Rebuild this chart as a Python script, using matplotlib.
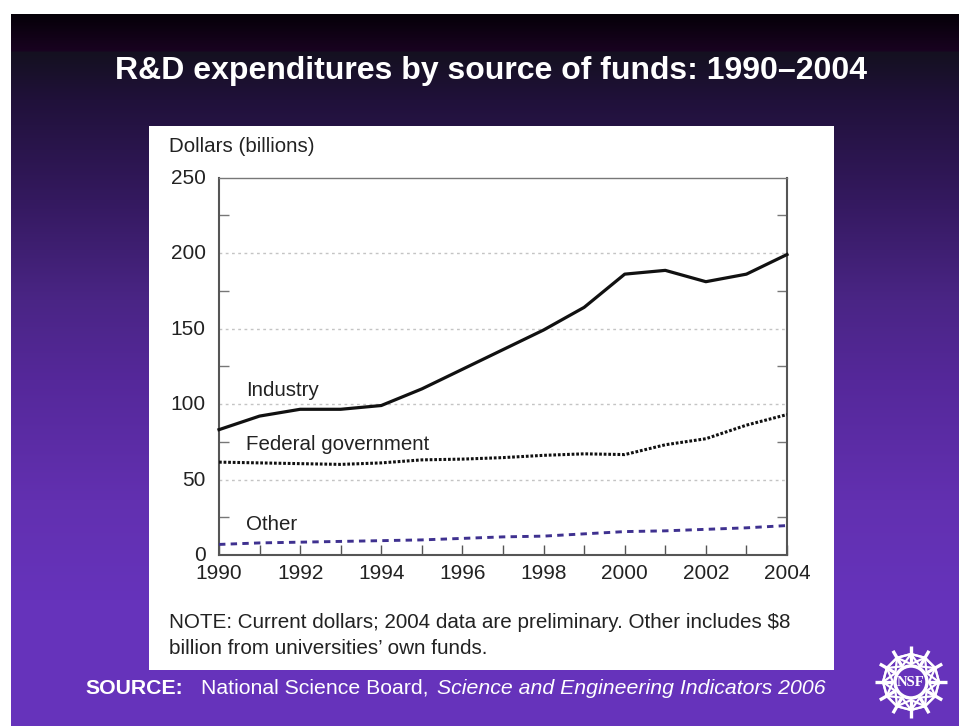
import numpy as np
import matplotlib
matplotlib.use("Agg")
import matplotlib.pyplot as plt
from matplotlib.colors import LinearSegmentedColormap
from matplotlib.patches import Rectangle, Circle
from matplotlib.transforms import ScaledTranslation

years = list(range(1990, 2005))
industry = [83, 92, 96.5, 96.5, 99, 110, 123, 136, 149, 164, 186, 188.5, 181, 186, 199]
federal = [61.5, 61, 60.5, 60, 61, 63, 63.5, 64.5, 66, 67, 66.5, 73, 77, 86, 93]
other = [7, 8, 8.5, 9, 9.5, 10, 11, 12, 12.5, 14, 15.5, 16, 17, 18, 19.5]
y_major = [0, 50, 100, 150, 200, 250]
y_minor = [25, 75, 125, 175, 225]
x_labels = list(range(1990, 2005, 2))

W, H = 959, 726
plt.rcParams['font.family'] = ['Liberation Sans', 'DejaVu Sans']
fig = plt.figure(figsize=(W / 100, H / 100), dpi=100, facecolor='white')

def box(l, t, r, b):
    return [l / W, 1 - b / H, (r - l) / W, (b - t) / H]

# slide background
TOP = 14
stops = [(14, '#050008'), (50, '#190320'), (52, '#141020'), (100, '#20113a'), (200, '#34195f'),
         (300, '#4a2585'), (380, '#55289a'), (500, '#6230b0'), (600, '#6633bb'), (726, '#6633bb')]
cmap = LinearSegmentedColormap.from_list('slide', [((y - TOP) / (H - TOP), c) for y, c in stops], N=712)
bg = fig.add_axes(box(11, TOP, W, H))
bg.imshow(np.linspace(0, 1, 712)[:, None], aspect='auto', cmap=cmap, extent=[0, 1, 0, 1])
bg.axis('off')

# overlay in pixel coordinates
ov = fig.add_axes([0, 0, 1, 1], zorder=1)
ov.set_xlim(0, W)
ov.set_ylim(H, 0)
ov.axis('off')
ov.patch.set_alpha(0)
ov.add_patch(Rectangle((148.5, 125.5), 685.5, 544.5, fc='white', ec='none'))
ov.text(491, 71, 'R&D expenditures by source of funds: 1990–2004', color='white',
        fontsize=23, fontweight='bold', ha='center', va='center')
ov.text(169, 146, 'Dollars (billions)', color='#222222', fontsize=14.8, va='center')
ov.text(169, 623, 'NOTE: Current dollars; 2004 data are preliminary. Other includes $8',
        color='#222222', fontsize=14.85, va='center')
ov.text(169, 649, 'billion from universities’ own funds.', color='#222222', fontsize=14.85, va='center')
ov.text(85, 688, 'SOURCE:', color='white', fontsize=15.3, fontweight='bold', va='center')
ov.text(201, 688, 'National Science Board, ', color='white', fontsize=15.3, va='center')
ov.text(437, 688, 'Science and Engineering Indicators 2006', color='white', fontsize=15.3,
        style='italic', va='center')

# NSF emblem
cx, cy, r0, r1, r2 = 911, 682, 18, 28, 36
for a in np.deg2rad(np.arange(0, 360, 30)):
    ov.plot([cx + r0 * np.cos(a), cx + r2 * np.cos(a)], [cy + r0 * np.sin(a), cy + r2 * np.sin(a)],
            color='white', lw=2.4, solid_capstyle='butt')
    for d in (-1, 1):
        b = a + d * np.pi / 6
        ov.plot([cx + r0 * np.cos(a), cx + r1 * np.cos(b)], [cy + r0 * np.sin(a), cy + r1 * np.sin(b)],
                color='white', lw=1.6)
        ov.plot([cx + r1 * np.cos(a), cx + r1 * np.cos(b)], [cy + r1 * np.sin(a), cy + r1 * np.sin(b)],
                color='white', lw=1.6)
ov.add_patch(Circle((cx, cy), r0 - 2, fc='#6633bb', ec='white', lw=2.5, zorder=3))
ov.text(cx, cy + 0.5, 'NSF', color='white', fontsize=10.5, fontweight='bold', family='Liberation Serif',
        ha='center', va='center', zorder=4)

# chart
ax = fig.add_axes(box(219, 177.5, 787, 555), zorder=2)
ax.patch.set_alpha(0)
ax.set_xlim(1990, 2004)
ax.set_ylim(0, 250)
for v in y_major[1:-1]:
    ax.axhline(v, color='#c4c4c4', lw=1, ls=(0, (2, 2.5)), zorder=1)
ax.plot(years, industry, color='#111111', lw=2.3, zorder=3, clip_on=False)
ax.plot(years, federal, color='#111111', lw=2.2, ls=(0, (0.9, 0.6)), zorder=3)
ax.plot(years, other, color='#3f3190', lw=2.1, ls=(0, (2.2, 1.8)), zorder=3)
ax.set_yticks(y_major)
ax.set_yticks(y_minor, minor=True)
ax.set_xticks(years)
ax.set_xticklabels([str(y) if y in x_labels else '' for y in years])
ax.tick_params(axis='x', direction='in', length=7, width=1, color='#555555', labelsize=15,
               labelcolor='#222222', pad=6.5)
ax.tick_params(axis='y', which='major', direction='in', length=0, labelsize=15,
               labelcolor='#222222', pad=9.5)
ax.tick_params(axis='y', which='minor', direction='in', length=7, width=1, color='#777777',
               left=True, right=True)
shift = ScaledTranslation(0, 0.8 / 72, fig.dpi_scale_trans)
for lab in ax.get_yticklabels():
    lab.set_transform(lab.get_transform() + shift)
for s in ['left', 'bottom', 'right']:
    ax.spines[s].set_color('#555555')
    ax.spines[s].set_linewidth(1.5)
ax.spines['top'].set_color('#777777')
ax.spines['top'].set_linewidth(1)
ax.text(1990.67, 109, 'Industry', fontsize=14.8, color='#222222', va='center')
ax.text(1990.67, 73, 'Federal government', fontsize=14.8, color='#222222', va='center')
ax.text(1990.67, 20, 'Other', fontsize=14.8, color='#222222', va='center')

fig.savefig('out.png', dpi=100, facecolor=fig.get_facecolor())
